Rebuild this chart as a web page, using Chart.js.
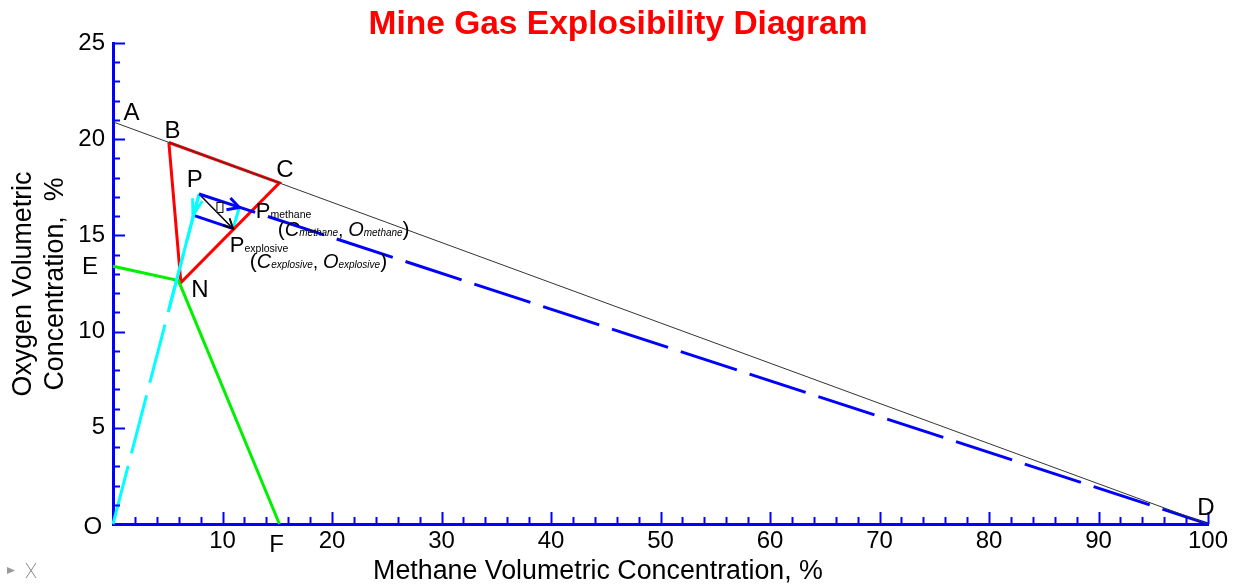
<!DOCTYPE html>
<html>
<head>
<meta charset="utf-8">
<script src="https://cdn.jsdelivr.net/npm/chart.js@4.4.1/dist/chart.umd.min.js"></script>
<style>
  html, body { margin: 0; padding: 0; background: #fff; }
  #wrap { width: 1250px; height: 585px; }
</style>
</head>
<body>
<div id="wrap"><canvas id="c" width="1250" height="585"></canvas></div>
<script>
// ---- data (methane %, oxygen %) ----
const airLine = [[0, 20.9], [100, 0]];                          // A -> D
const explosiveTriangle = [[5.1, 19.83], [15.2, 17.73], [6.2, 12.55], [5.1, 19.83]]; // B C N B
const noseLine = [[0, 13.4], [5.98, 12.65], [15.2, 0]];          // E -> knee -> F
const dilutionDashed = [[0, 0], [7.86, 17.15]];                 // O -> P
const dilutionSolid = [[5.1, 11.15], [7.86, 17.15]];
const methaneLine = [[7.86, 17.15], [100, 0]];                  // P -> D
const shiftBlue = [[7.3, 16.05], [10.97, 15.35]];
const shiftCyan = [[10.97, 15.35], [11.53, 16.45]];
const resultant = [[7.86, 17.15], [10.97, 15.35]];              // P -> P explosive

const xTickLabels = [10, 20, 30, 40, 50, 60, 70, 80, 90, 100];
const yTickLabels = [5, 10, 15, 20, 25];

const FAM = "'Liberation Sans', Arial, sans-serif";
const toXY = arr => arr.map(p => ({x: p[0], y: p[1]}));

function line(data, color, width, dash) {
  return {
    data: toXY(data), showLine: true, borderColor: color, borderWidth: width,
    borderDash: dash || [], pointRadius: 0, fill: false, tension: 0, clip: false
  };
}

// arrowheads: [from, to, color, length, half angle]
const arrows = [
  [[7.86, 17.15], [7.3, 16.05], '#00ffff', 17, 0.30],
  [[7.86, 17.15], [11.53, 16.45], '#0000ff', 13, 0.50],
  [[7.86, 17.15], [10.97, 15.35], '#000000', 11, 0.45]
];

const letters = [
  ['A', 1.69, 21.35], ['B', 5.43, 20.39], ['C', 15.69, 18.40], ['P', 7.47, 17.88],
  ['N', 7.93, 12.16], ['E', -2.1, 13.34], ['O', -1.84, -0.16], ['F', 14.93, -1.09],
  ['D', 99.8, 0.83]
];

const overlay = {
  id: 'overlay',
  afterDatasetsDraw(chart) {
    const ctx = chart.ctx, xs = chart.scales.x, ys = chart.scales.y;
    const X = v => xs.getPixelForValue(v), Y = v => ys.getPixelForValue(v);
    ctx.save();

    // inward ticks
    ctx.strokeStyle = '#0000ff';
    ctx.lineWidth = 2;
    xs.ticks.forEach(t => {
      if (t.value === 0) return;
      const p = Math.round(X(t.value)) + 0.5, len = t.value % 10 === 0 ? 12 : 7;
      ctx.beginPath(); ctx.moveTo(p, ys.bottom); ctx.lineTo(p, ys.bottom - len); ctx.stroke();
    });
    ys.ticks.forEach(t => {
      if (t.value === 0) return;
      const p = Math.round(Y(t.value)) + 0.5, len = t.value % 5 === 0 ? 12 : 7;
      ctx.beginPath(); ctx.moveTo(xs.left, p); ctx.lineTo(xs.left + len, p); ctx.stroke();
    });

    // arrowheads
    arrows.forEach(([f, to, col, len, ang]) => {
      const x1 = X(f[0]), y1 = Y(f[1]), x2 = X(to[0]), y2 = Y(to[1]);
      const a = Math.atan2(y2 - y1, x2 - x1);
      ctx.strokeStyle = col; ctx.lineWidth = col === '#000000' ? 2 : 3;
      ctx.beginPath();
      ctx.moveTo(x2 - len * Math.cos(a - ang), y2 - len * Math.sin(a - ang));
      ctx.lineTo(x2, y2);
      ctx.lineTo(x2 - len * Math.cos(a + ang), y2 - len * Math.sin(a + ang));
      ctx.stroke();
    });

    // small marker box
    ctx.fillStyle = '#fff'; ctx.strokeStyle = '#000'; ctx.lineWidth = 1;
    ctx.fillRect(X(9.72) - 3, Y(16.48) - 5, 6, 10);
    ctx.strokeRect(X(9.72) - 3 + 0.5, Y(16.48) - 5 + 0.5, 6, 10);

    // point letters
    ctx.fillStyle = '#000';
    ctx.textAlign = 'center'; ctx.textBaseline = 'middle';
    ctx.font = `24px ${FAM}`;
    letters.forEach(([t, x, y]) => ctx.fillText(t, X(x), Y(y)));

    // subscripted labels
    ctx.textAlign = 'left'; ctx.textBaseline = 'alphabetic';
    const runs = (x, y, parts) => {
      let cx = X(x);
      parts.forEach(([t, size, it]) => {
        ctx.font = `${it ? 'italic ' : ''}${size}px ${FAM}`;
        ctx.fillText(t, cx, Y(y));
        cx += ctx.measureText(t).width;
      });
    };
    runs(13.04, 15.89, [['P', 22], ['methane', 10.5]]);
    runs(15.05, 14.97, [['(', 21], ['C', 20, 1], ['methane', 10, 1], [', ', 18], ['O', 20, 1], ['methane', 10, 1], [')', 21]]);
    runs(10.67, 14.15, [['P', 22], ['explosive', 10.5]]);
    runs(12.49, 13.29, [['(', 21], ['C', 20, 1], ['explosive', 10, 1], [', ', 18], ['O', 20, 1], ['explosive', 10, 1], [')', 21]]);

    // titles
    ctx.textAlign = 'center'; ctx.textBaseline = 'middle';
    ctx.fillStyle = '#ff0000';
    ctx.font = `bold 33.5px ${FAM}`;
    ctx.fillText('Mine Gas Explosibility Diagram', 618, 25);
    ctx.fillStyle = '#000';
    ctx.font = `26.8px ${FAM}`;
    ctx.fillText('Methane Volumetric Concentration, %', 598, 572);
    ctx.save();
    ctx.translate(24, 284); ctx.rotate(-Math.PI / 2);
    ctx.fillText('Oxygen Volumetric', 0, 0);
    ctx.fillText('Concentration,  %', 0, 32);
    ctx.restore();

    // corner icon
    ctx.fillStyle = '#999'; ctx.strokeStyle = '#888'; ctx.lineWidth = 1;
    ctx.beginPath(); ctx.moveTo(7, 567); ctx.lineTo(15, 570.5); ctx.lineTo(7, 574); ctx.closePath(); ctx.fill();
    ctx.beginPath(); ctx.moveTo(26, 563); ctx.lineTo(36, 578); ctx.moveTo(36, 563); ctx.lineTo(26, 578); ctx.stroke();
    ctx.restore();
  }
};

new Chart(document.getElementById('c'), {
  type: 'scatter',
  data: {
    datasets: [
      line(airLine, '#333333', 1),
      line(methaneLine, '#0000ff', 3, [59, 13.4]),
      line(dilutionDashed, '#00ffff', 3, [60, 13]),
      line(dilutionSolid, '#00ffff', 3),
      line(noseLine, '#00f000', 3),
      line(explosiveTriangle, '#ff0000', 3),
      line(shiftBlue, '#0000ff', 3),
      line(shiftCyan, '#00ffff', 3),
      line(resultant, '#000000', 1.5)
    ]
  },
  plugins: [overlay],
  options: {
    responsive: false,
    animation: false,
    layout: { padding: { top: 43, right: 42, left: 0, bottom: 0 } },
    plugins: { legend: { display: false }, tooltip: { enabled: false }, title: { display: false } },
    scales: {
      x: {
        type: 'linear', min: 0, max: 100,
        afterFit: s => { s.height = 61; },
        border: { color: '#0000ff', width: 3 },
        grid: { display: false, drawTicks: false },
        ticks: {
          stepSize: 2, autoSkip: false, maxRotation: 0, padding: 3, color: '#000',
          font: { size: 24, family: FAM },
          callback: v => xTickLabels.includes(v) ? String(v) : ''
        }
      },
      y: {
        type: 'linear', min: 0, max: 25,
        afterFit: s => { s.width = 113; },
        border: { color: '#0000ff', width: 3 },
        grid: { display: false, drawTicks: false },
        ticks: {
          stepSize: 1, autoSkip: false, padding: 8, color: '#000',
          font: { size: 24, family: FAM },
          callback: v => yTickLabels.includes(v) ? String(v) : ''
        }
      }
    }
  }
});
</script>
</body>
</html>
